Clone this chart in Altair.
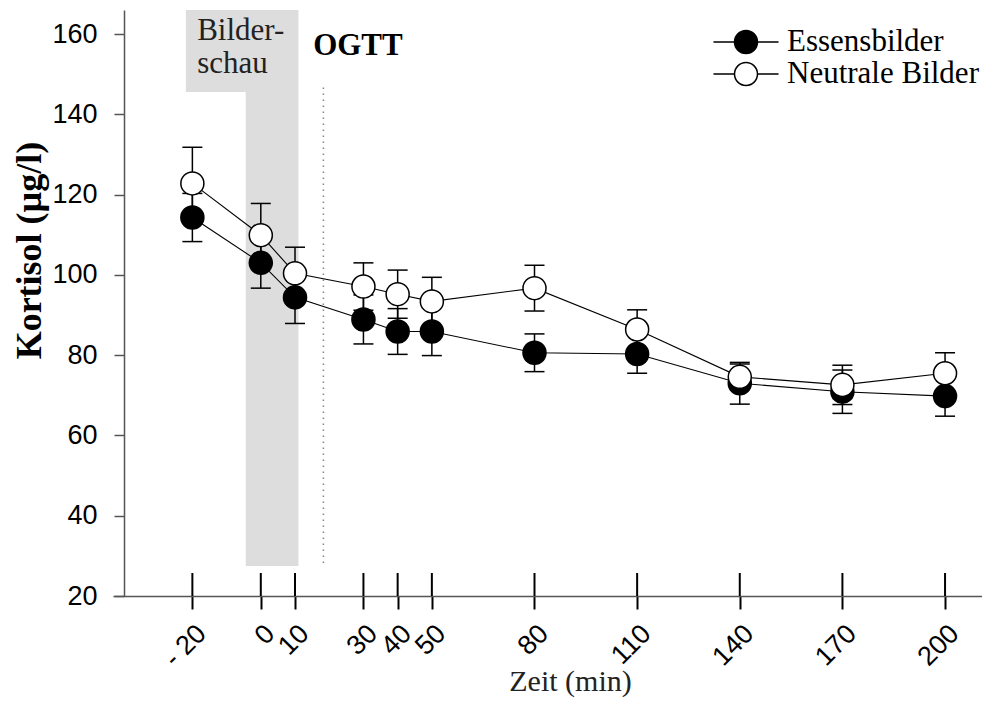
import altair as alt
import pandas as pd

# ---------------- data ----------------
times = [-20, 0, 10, 30, 40, 50, 80, 110, 140, 170, 200]
essen_mean = [114.3, 103.0, 94.4, 88.9, 85.9, 85.9, 80.6, 80.3, 73.0, 70.9, 69.8]
essen_se = [6.0, 6.3, 6.5, 6.1, 5.7, 6.0, 4.7, 4.8, 5.2, 5.4, 5.0]
neutral_mean = [122.8, 109.9, 100.4, 97.1, 95.2, 93.4, 96.7, 86.4, 74.6, 72.6, 75.5]
neutral_se = [9.0, 7.9, 6.5, 5.9, 6.0, 6.0, 5.7, 4.9, 3.2, 4.9, 5.1]
series_names = ["Essensbilder", "Neutrale Bilder"]
y_ticks = [20, 40, 60, 80, 100, 120, 140, 160]

# annotations (in data units)
shade_x0 = [-21.9, -4.4]
shade_x1 = [11.0, 11.0]
shade_y0 = [145.6, 27.5]
shade_y1 = [166.0, 145.6]
ogtt_time = [18.3]
ogtt_y0 = [28.2]
ogtt_y1 = [147.8]
note_labels = ["Bilder-", "schau"]
note_x = [-18.6, -18.6]
note_y = [158.5, 150.3]
ogtt_label = ["OGTT"]
ogtt_label_x = [15.3]
ogtt_label_y = [154.8]

W, H = 869, 586

rows = []
for name, means, ses in [(series_names[0], essen_mean, essen_se),
                         (series_names[1], neutral_mean, neutral_se)]:
    for t, m, s in zip(times, means, ses):
        rows.append({"t": t, "v": m, "lo": m - s, "hi": m + s, "series": name})
df = pd.DataFrame(rows)

shade_df = pd.DataFrame({"x0": shade_x0, "x1": shade_x1, "y0": shade_y0, "y1": shade_y1})
ogtt_df = pd.DataFrame({"t": ogtt_time, "y0": ogtt_y0, "y1": ogtt_y1})
note_df = pd.DataFrame({"x": note_x, "y": note_y, "label": note_labels})
ogtt_lab_df = pd.DataFrame({"x": ogtt_label_x, "y": ogtt_label_y, "label": ogtt_label})
tick_df = pd.DataFrame({"t": times})

xs = alt.Scale(domain=[-43.2, 210.8], nice=False, zero=False)
ys = alt.Scale(domain=[20, 166], nice=False, zero=False)

xaxis = alt.Axis(
    values=times, title="Zeit (min)", grid=False, labelAngle=-45,
    labelOverlap=False, labelFlush=False, labelFont="Liberation Sans",
    labelFontSize=27, labelColor="black", labelPadding=11,
    labelExpr="datum.value == -20 ? '- 20' : datum.label",
    tickColor="black", tickSize=13, tickWidth=2,
    domainColor="#555", domainWidth=1.5,
    titleFont="Liberation Serif", titleFontSize=30, titleFontWeight="normal",
    titleColor="#222", titleX=457, titleY=94, titleBaseline="alphabetic",
    titleAlign="center",
)
yaxis = alt.Axis(
    values=y_ticks, title="Kortisol (µg/l)", grid=False, offset=-11,
    labelFont="Liberation Sans", labelFontSize=27, labelColor="black",
    labelPadding=17, tickColor="#555", tickSize=10, tickWidth=1.5,
    domainColor="#555", domainWidth=1.5,
    titleFont="Liberation Serif", titleFontSize=36, titleFontWeight="bold",
    titleColor="black", titleX=-84, titleY=240, titleBaseline="alphabetic",
    titleAngle=270, titleAlign="center",
)

legend = alt.Legend(
    title=None, orient="none", legendX=617.5, legendY=16.5,
    symbolType="M-2.83,0L-1,0M1,0L2.83,0M-1,0A1,1,0,1,1,1,0A1,1,0,1,1,-1,0Z",
    symbolSize=529, symbolStrokeColor="black", symbolStrokeWidth=1.5,
    symbolOpacity=1, labelFont="Liberation Serif", labelFontSize=31,
    labelColor="black", labelOffset=25.5, labelLimit=400, rowPadding=0,
    padding=0,
)


def X(field):
    return alt.X(field, scale=xs, axis=xaxis)


def Y(field):
    return alt.Y(field, scale=ys, axis=yaxis)


shade = alt.Chart(shade_df).mark_rect(color="#dddddd").encode(
    x=X("x0:Q"), x2="x1:Q", y=Y("y0:Q"), y2="y1:Q",
)
ogtt_line = alt.Chart(ogtt_df).mark_rule(
    color="#888", strokeWidth=1.5, strokeDash=[1.5, 4.5]
).encode(x=X("t:Q"), y=Y("y0:Q"), y2="y1:Q")
notes = alt.Chart(note_df).mark_text(
    align="left", baseline="alphabetic", font="Liberation Serif",
    fontSize=31, color="#222"
).encode(x=X("x:Q"), y=Y("y:Q"), text="label:N")
ogtt_text = alt.Chart(ogtt_lab_df).mark_text(
    align="left", baseline="alphabetic", font="Liberation Serif",
    fontSize=31, fontWeight="bold", color="black"
).encode(x=X("x:Q"), y=Y("y:Q"), text="label:N")
lines = alt.Chart(df).mark_line(color="black", strokeWidth=1.1).encode(
    x=X("t:Q"), y=Y("v:Q"), detail="series:N",
)
bars = alt.Chart(df).mark_rule(color="black", strokeWidth=1.5).encode(
    x=X("t:Q"), y=Y("lo:Q"), y2="hi:Q",
)
caps_lo = alt.Chart(df).mark_tick(
    orient="horizontal", size=20, thickness=1.5, color="black", opacity=1
).encode(x=X("t:Q"), y=Y("lo:Q"))
caps_hi = alt.Chart(df).mark_tick(
    orient="horizontal", size=20, thickness=1.5, color="black", opacity=1
).encode(x=X("t:Q"), y=Y("hi:Q"))
points = alt.Chart(df).mark_point(
    shape="circle", filled=True, size=530, stroke="black", strokeWidth=1.5,
    opacity=1
).encode(
    x=X("t:Q"), y=Y("v:Q"),
    fill=alt.Fill("series:N", scale=alt.Scale(domain=series_names,
                                              range=["black", "white"]),
                  legend=legend),
)
tick_up = alt.Chart(tick_df).mark_rule(color="black", strokeWidth=2).encode(
    x=X("t:Q"), y=alt.value(H - 23), y2=alt.value(H),
)

chart = alt.layer(
    shade, ogtt_line, notes, ogtt_text, lines, bars, caps_lo, caps_hi,
    points, tick_up
).properties(
    width=W, height=H,
    autosize=alt.AutoSizeParams(type="none"),
    padding={"left": 105, "top": 2, "right": 0, "bottom": 104},
    background="white",
).configure_view(stroke=None)

chart.save("out.html", embed_options={"renderer": "svg", "actions": False})
